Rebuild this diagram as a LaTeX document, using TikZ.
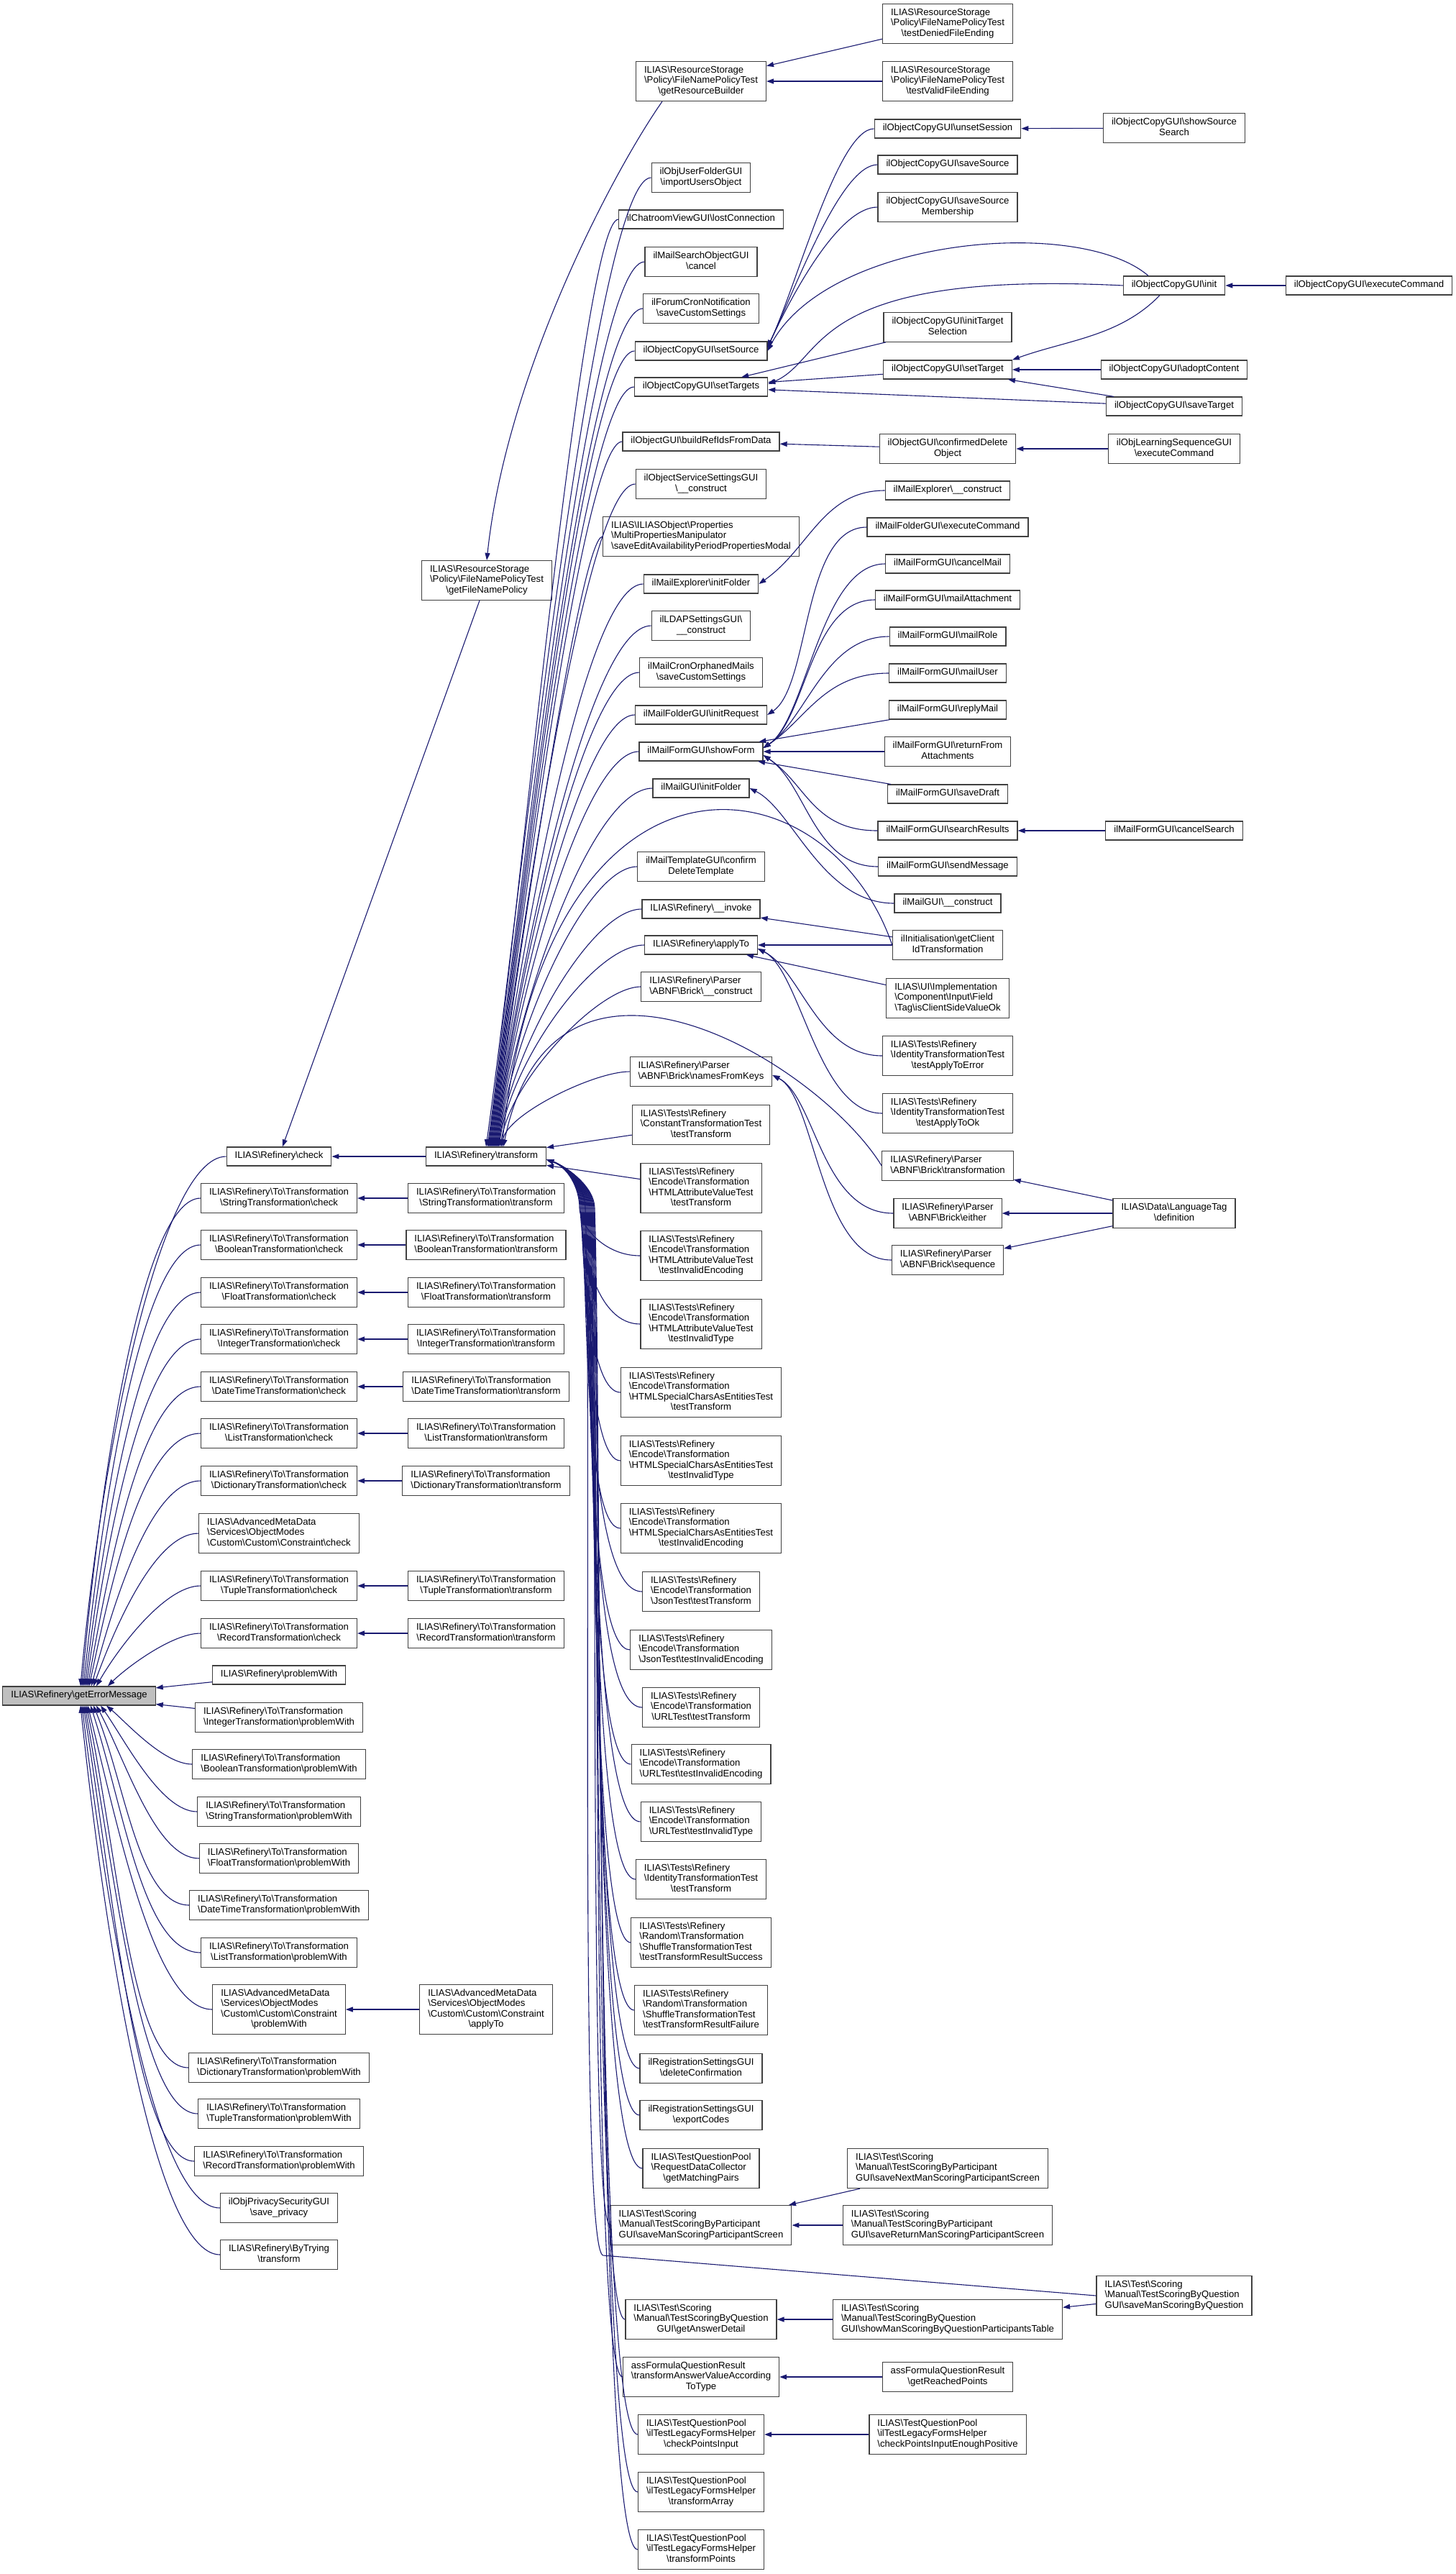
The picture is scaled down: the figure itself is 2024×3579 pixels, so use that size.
\documentclass[tikz,border=0pt]{standalone}
\usepackage{fontspec}
\setmainfont{Liberation Sans}
\usepackage{xcolor}
\usepackage{tikz}
\usetikzlibrary{arrows.meta}
\definecolor{edgeblue}{HTML}{191970}
\definecolor{boxline}{HTML}{404040}
\definecolor{hubfill}{HTML}{BFBFBF}
\newcommand{\bsl}{\textbackslash}
\newcommand{\fnt}{\fontsize{13.15}{14.5}\selectfont}
\newcommand{\one}[1]{\begin{tabular}{@{}c@{}}#1\end{tabular}}
\newcommand{\many}[2]{\begin{tabular}{@{}l@{}}#1\\\multicolumn{1}{@{}c@{}}{#2}\end{tabular}}

\begin{document}
\begin{tikzpicture}[x=1pt,y=1pt,node distance=288pt,
	>={Triangle[length=10pt,width=7pt]},
	fn/.style={draw=boxline,fill=white,line width=1.2pt,inner xsep=11.5pt,inner ysep=5.75pt,font=\fnt},
	call/.style={<-,draw=edgeblue,line width=1.1pt}]
	\useasboundingbox (0,0) rectangle (2024,-3579);

	\node[fn,fill=hubfill] (gem) at (110,-2358) {\one{ILIAS\bsl Refinery\bsl getErrorMessage}};

	\node[fn] (chk) at (388,-1608) {\one{ILIAS\bsl Refinery\bsl check}};
	\node (trf) [fn,right of=chk] {\one{ILIAS\bsl Refinery\bsl transform}};
	\foreach \kind/\y in {String/1666,Boolean/1731,Float/1797,Integer/1862,DateTime/1928,List/1993,Dictionary/2059,Tuple/2205,Record/2271} {
		\node[fn] (chk\kind) at (388,-\y) {\many{ILIAS\bsl Refinery\bsl To\bsl Transformation}{\bsl \kind Transformation\bsl check}};
		\node (trf\kind) [fn,right of=chk\kind] {\many{ILIAS\bsl Refinery\bsl To\bsl Transformation}{\bsl \kind Transformation\bsl transform}};
		\draw[call] (chk\kind) -- (trf\kind);
	}
	\node[fn] (chkAmd) at (388,-2132) {\many{ILIAS\bsl AdvancedMetaData\\\bsl Services\bsl ObjectModes}{\bsl Custom\bsl Custom\bsl Constraint\bsl check}};
	\node[fn] (pw) at (388,-2329) {\one{ILIAS\bsl Refinery\bsl problemWith}};
	\foreach \kind/\y in {Integer/2388,Boolean/2453,String/2519,Float/2584,DateTime/2649,List/2715,Dictionary/2875,Tuple/2939,Record/3005}
		\node[fn] (pw\kind) at (388,-\y) {\many{ILIAS\bsl Refinery\bsl To\bsl Transformation}{\bsl \kind Transformation\bsl problemWith}};
	\node[fn] (pwAmd) at (388,-2794) {\many{ILIAS\bsl AdvancedMetaData\\\bsl Services\bsl ObjectModes\\\bsl Custom\bsl Custom\bsl Constraint}{\bsl problemWith}};
	\node (amdApply) [fn,right of=pwAmd] {\many{ILIAS\bsl AdvancedMetaData\\\bsl Services\bsl ObjectModes\\\bsl Custom\bsl Custom\bsl Constraint}{\bsl applyTo}};
	\node[fn] (privacy) at (388,-3070) {\many{ilObjPrivacySecurityGUI}{\bsl save\_privacy}};
	\node[fn] (byTrying) at (388,-3135) {\many{ILIAS\bsl Refinery\bsl ByTrying}{\bsl transform}};
	\node[fn] (fnp) at (677,-807) {\many{ILIAS\bsl ResourceStorage\\\bsl Policy\bsl FileNamePolicyTest}{\bsl getFileNamePolicy}};

	\node[fn] (rsb) at (975,-113) {\many{ILIAS\bsl ResourceStorage\\\bsl Policy\bsl FileNamePolicyTest}{\bsl getResourceBuilder}};
	\node[fn] (importUsers) at (975,-247) {\many{ilObjUserFolderGUI}{\bsl importUsersObject}};
	\node[fn] (lostConn) at (975,-305) {\one{ilChatroomViewGUI\bsl lostConnection}};
	\node[fn] (searchCancel) at (975,-364) {\many{ilMailSearchObjectGUI}{\bsl cancel}};
	\node[fn] (forumSave) at (975,-429) {\many{ilForumCronNotification}{\bsl saveCustomSettings}};
	\node[fn] (setSource) at (975,-488) {\one{ilObjectCopyGUI\bsl setSource}};
	\node[fn] (setTargets) at (975,-538) {\one{ilObjectCopyGUI\bsl setTargets}};
	\node[fn] (buildRef) at (975,-614) {\one{ilObjectGUI\bsl buildRefIdsFromData}};
	\node[fn] (servConstr) at (975,-673) {\many{ilObjectServiceSettingsGUI}{\bsl\_\_construct}};
	\node[fn] (saveAvail) at (975,-746) {\many{ILIAS\bsl ILIASObject\bsl Properties\\\bsl MultiPropertiesManipulator}{\bsl saveEditAvailabilityPeriodPropertiesModal}};
	\node[fn] (explInit) at (975,-812) {\one{ilMailExplorer\bsl initFolder}};
	\node[fn] (ldapConstr) at (975,-870) {\many{ilLDAPSettingsGUI\bsl}{\_\_construct}};
	\node[fn] (orphSave) at (975,-935) {\many{ilMailCronOrphanedMails}{\bsl saveCustomSettings}};
	\node[fn] (initReq) at (975,-994) {\one{ilMailFolderGUI\bsl initRequest}};
	\node[fn] (showForm) at (975,-1045) {\one{ilMailFormGUI\bsl showForm}};
	\node[fn] (guiInit) at (975,-1096) {\one{ilMailGUI\bsl initFolder}};
	\node[fn] (confTpl) at (975,-1205) {\many{ilMailTemplateGUI\bsl confirm}{DeleteTemplate}};
	\node[fn] (invoke) at (975,-1264) {\one{ILIAS\bsl Refinery\bsl\_\_invoke}};
	\node[fn] (applyTo) at (975,-1314) {\one{ILIAS\bsl Refinery\bsl applyTo}};
	\node[fn] (brickConstr) at (975,-1372) {\many{ILIAS\bsl Refinery\bsl Parser}{\bsl ABNF\bsl Brick\bsl\_\_construct}};
	\node[fn] (namesKeys) at (975,-1490) {\many{ILIAS\bsl Refinery\bsl Parser}{\bsl ABNF\bsl Brick\bsl namesFromKeys}};
	\node[fn] (constTest) at (975,-1564) {\many{ILIAS\bsl Tests\bsl Refinery\\\bsl ConstantTransformationTest}{\bsl testTransform}};
	\foreach \n/\y/\last in {haTrf/1652/testTransform,haEnc/1746/testInvalidEncoding,haType/1841/testInvalidType}
		\node[fn] (\n) at (975,-\y) {\many{ILIAS\bsl Tests\bsl Refinery\\\bsl Encode\bsl Transformation\\\bsl HTMLAttributeValueTest}{\bsl\last}};
	\foreach \n/\y/\last in {hsTrf/1936/testTransform,hsType/2031/testInvalidType,hsEnc/2125/testInvalidEncoding}
		\node[fn] (\n) at (975,-\y) {\many{ILIAS\bsl Tests\bsl Refinery\\\bsl Encode\bsl Transformation\\\bsl HTMLSpecialCharsAsEntitiesTest}{\bsl\last}};
	\foreach \n/\y/\last in {jsTrf/2213/JsonTest\bsl testTransform,jsEnc/2294/JsonTest\bsl testInvalidEncoding,urlTrf/2374/URLTest\bsl testTransform,urlEnc/2453/URLTest\bsl testInvalidEncoding,urlType/2533/URLTest\bsl testInvalidType}
		\node[fn] (\n) at (975,-\y) {\many{ILIAS\bsl Tests\bsl Refinery\\\bsl Encode\bsl Transformation}{\bsl\last}};
	\node[fn] (idTrf) at (975,-2613) {\many{ILIAS\bsl Tests\bsl Refinery\\\bsl IdentityTransformationTest}{\bsl testTransform}};
	\node[fn] (shufOk) at (975,-2701) {\many{ILIAS\bsl Tests\bsl Refinery\\\bsl Random\bsl Transformation\\\bsl ShuffleTransformationTest}{\bsl testTransformResultSuccess}};
	\node[fn] (shufFail) at (975,-2795) {\many{ILIAS\bsl Tests\bsl Refinery\\\bsl Random\bsl Transformation\\\bsl ShuffleTransformationTest}{\bsl testTransformResultFailure}};
	\node[fn] (regDel) at (975,-2876) {\many{ilRegistrationSettingsGUI}{\bsl deleteConfirmation}};
	\node[fn] (regExp) at (975,-2941) {\many{ilRegistrationSettingsGUI}{\bsl exportCodes}};
	\node[fn] (matchPairs) at (975,-3015) {\many{ILIAS\bsl TestQuestionPool\\\bsl RequestDataCollector}{\bsl getMatchingPairs}};
	\node[fn] (saveManPart) at (975,-3094) {\many{ILIAS\bsl Test\bsl Scoring\\\bsl Manual\bsl TestScoringByParticipant}{GUI\bsl saveManScoringParticipantScreen}};
	\node[fn] (answerDetail) at (975,-3225) {\many{ILIAS\bsl Test\bsl Scoring\\\bsl Manual\bsl TestScoringByQuestion}{GUI\bsl getAnswerDetail}};
	\node[fn] (formulaType) at (975,-3305) {\many{assFormulaQuestionResult\\\bsl transformAnswerValueAccording}{ToType}};
	\foreach \n/\y/\last in {ptsInput/3385/checkPointsInput,ptsArray/3465/transformArray,ptsPoints/3545/transformPoints}
		\node[fn] (\n) at (975,-\y) {\many{ILIAS\bsl TestQuestionPool\\\bsl ilTestLegacyFormsHelper}{\bsl\last}};

	\node[fn] (denied) at (1318,-33) {\many{ILIAS\bsl ResourceStorage\\\bsl Policy\bsl FileNamePolicyTest}{\bsl testDeniedFileEnding}};
	\node[fn] (valid) at (1318,-113) {\many{ILIAS\bsl ResourceStorage\\\bsl Policy\bsl FileNamePolicyTest}{\bsl testValidFileEnding}};
	\node[fn] (unsetSess) at (1318,-179) {\one{ilObjectCopyGUI\bsl unsetSession}};
	\node[fn] (saveSrc) at (1318,-229) {\one{ilObjectCopyGUI\bsl saveSource}};
	\node[fn] (saveSrcMem) at (1318,-288) {\many{ilObjectCopyGUI\bsl saveSource}{Membership}};
	\node[fn] (initTgtSel) at (1318,-455) {\many{ilObjectCopyGUI\bsl initTarget}{Selection}};
	\node[fn] (setTarget) at (1318,-514) {\one{ilObjectCopyGUI\bsl setTarget}};
	\node[fn] (confDel) at (1318,-624) {\many{ilObjectGUI\bsl confirmedDelete}{Object}};
	\node[fn] (explConstr) at (1318,-682) {\one{ilMailExplorer\bsl\_\_construct}};
	\node[fn] (folderExec) at (1318,-733) {\one{ilMailFolderGUI\bsl executeCommand}};
	\node[fn] (cancelMail) at (1318,-784) {\one{ilMailFormGUI\bsl cancelMail}};
	\node[fn] (mailAtt) at (1318,-834) {\one{ilMailFormGUI\bsl mailAttachment}};
	\node[fn] (mailRole) at (1318,-885) {\one{ilMailFormGUI\bsl mailRole}};
	\node[fn] (mailUser) at (1318,-936) {\one{ilMailFormGUI\bsl mailUser}};
	\node[fn] (replyMail) at (1318,-987) {\one{ilMailFormGUI\bsl replyMail}};
	\node[fn] (retAtt) at (1318,-1045) {\many{ilMailFormGUI\bsl returnFrom}{Attachments}};
	\node[fn] (saveDraft) at (1318,-1104) {\one{ilMailFormGUI\bsl saveDraft}};
	\node[fn] (searchRes) at (1318,-1155) {\one{ilMailFormGUI\bsl searchResults}};
	\node[fn] (sendMsg) at (1318,-1205) {\one{ilMailFormGUI\bsl sendMessage}};
	\node[fn] (guiConstr) at (1318,-1256) {\one{ilMailGUI\bsl\_\_construct}};
	\node[fn] (clientId) at (1318,-1314) {\many{ilInitialisation\bsl getClient}{IdTransformation}};
	\node[fn] (uiTag) at (1318,-1388) {\many{ILIAS\bsl UI\bsl Implementation\\\bsl Component\bsl Input\bsl Field}{\bsl Tag\bsl isClientSideValueOk}};
	\node[fn] (applyErr) at (1318,-1468) {\many{ILIAS\bsl Tests\bsl Refinery\\\bsl IdentityTransformationTest}{\bsl testApplyToError}};
	\node[fn] (applyOk) at (1318,-1548) {\many{ILIAS\bsl Tests\bsl Refinery\\\bsl IdentityTransformationTest}{\bsl testApplyToOk}};
	\node[fn] (brickTrf) at (1318,-1621) {\many{ILIAS\bsl Refinery\bsl Parser}{\bsl ABNF\bsl Brick\bsl transformation}};
	\node[fn] (brickEither) at (1318,-1687) {\many{ILIAS\bsl Refinery\bsl Parser}{\bsl ABNF\bsl Brick\bsl either}};
	\node[fn] (brickSeq) at (1318,-1752) {\many{ILIAS\bsl Refinery\bsl Parser}{\bsl ABNF\bsl Brick\bsl sequence}};
	\node[fn] (saveNext) at (1318,-3015) {\many{ILIAS\bsl Test\bsl Scoring\\\bsl Manual\bsl TestScoringByParticipant}{GUI\bsl saveNextManScoringParticipantScreen}};
	\node[fn] (saveReturn) at (1318,-3094) {\many{ILIAS\bsl Test\bsl Scoring\\\bsl Manual\bsl TestScoringByParticipant}{GUI\bsl saveReturnManScoringParticipantScreen}};
	\node[fn] (showManQ) at (1318,-3225) {\many{ILIAS\bsl Test\bsl Scoring\\\bsl Manual\bsl TestScoringByQuestion}{GUI\bsl showManScoringByQuestionParticipantsTable}};
	\node[fn] (reached) at (1318,-3305) {\many{assFormulaQuestionResult}{\bsl getReachedPoints}};
	\node[fn] (enoughPos) at (1318,-3385) {\many{ILIAS\bsl TestQuestionPool\\\bsl ilTestLegacyFormsHelper}{\bsl checkPointsInputEnoughPositive}};

	\node[fn] (showSrcSearch) at (1633,-178) {\many{ilObjectCopyGUI\bsl showSource}{Search}};
	\node[fn] (cpInit) at (1633,-397) {\one{ilObjectCopyGUI\bsl init}};
	\node[fn] (adopt) at (1633,-514) {\one{ilObjectCopyGUI\bsl adoptContent}};
	\node[fn] (saveTgt) at (1633,-565) {\one{ilObjectCopyGUI\bsl saveTarget}};
	\node[fn] (lsExec) at (1633,-624) {\many{ilObjLearningSequenceGUI}{\bsl executeCommand}};
	\node[fn] (cancelSearch) at (1633,-1155) {\one{ilMailFormGUI\bsl cancelSearch}};
	\node[fn] (langDef) at (1633,-1687) {\many{ILIAS\bsl Data\bsl LanguageTag}{\bsl definition}};
	\node[fn] (saveManQ) at (1633,-3192) {\many{ILIAS\bsl Test\bsl Scoring\\\bsl Manual\bsl TestScoringByQuestion}{GUI\bsl saveManScoringByQuestion}};
	\node[fn] (cpExec) at (1904,-397) {\one{ilObjectCopyGUI\bsl executeCommand}};
	\coordinate (fan) at (806,-1680);
	\coordinate (qbend) at (839,-3136);

	\foreach \c/\s/\a/\o/\i in {chk/2/85/330/90,chkString/4/85/300/80,chkBoolean/6/84/270/80,chkFloat/8/83/240/80,chkInteger/10/82/210/80,chkDateTime/12/80/180/80,chkList/14/78/150/80,chkDictionary/17/75/120/70,chkAmd/20/70/90/60,chkTuple/24/60/60/50,chkRecord/40/45/35/40}
		\draw[call] ([xshift=\s pt]gem.north) .. controls +(\a:\o pt) and +(-\i pt,0pt) .. (\c.west);
	\foreach \c/\s/\a/\o/\i in {pwBoolean/38/-40/35/40,pwString/30/-55/60/50,pwFloat/24/-62/90/60,pwDateTime/20/-68/120/70,pwList/16/-72/150/80,pwAmd/12/-76/180/80,pwDictionary/10/-78/220/80,pwTuple/8/-80/250/80,pwRecord/6/-81/280/80,privacy/4/-83/310/90,byTrying/2/-84/340/90}
		\draw[call] ([xshift=\s pt]gem.south) .. controls +(\a:\o pt) and +(-\i pt,0pt) .. (\c.west);
	\draw[call] (gem) -- (pw);
	\draw[call] (gem) -- (pwInteger);
	\draw[call] (pwAmd) -- (amdApply);
	\draw[call] (chk) -- (trf);
	\draw[call] (chk) -- (fnp);
	\draw[call] (fnp.north) .. controls +(84:260pt) and +(235:120pt) .. ([xshift=-54pt]rsb.south);
	\draw[call] (rsb) -- (denied);
	\draw[call] (rsb) -- (valid);

	\foreach \c/\s/\o/\i in {importUsers/0/300/80,lostConn/2/300/50,searchCancel/3/300/80,forumSave/4/300/80,setSource/5/300/70,setTargets/6/300/70,buildRef/7/300/55,servConstr/8/300/70,saveAvail/9/300/30,explInit/10/300/80,ldapConstr/11/280/85,orphSave/12/260/75,initReq/13/240/70,showForm/14/220/75,guiInit/15/200/85,confTpl/16/170/70,invoke/17/140/70,applyTo/18/120/70,brickConstr/20/90/60,namesKeys/22/45/50}
		\draw[call] ([xshift=\s pt]trf.north) .. controls +(82:\o pt) and +(-\i pt,0pt) .. (\c.west);
	\foreach \c/\d/\o/\i in {haEnc/0/25/50,haType/1/60/60,hsTrf/2/100/40,hsType/3/140/40,hsEnc/4/180/45,jsTrf/5/220/70,jsEnc/6/250/55,urlTrf/7/280/70,urlEnc/8/300/55,urlType/9/300/65,idTrf/10/300/60,shufOk/11/300/55,shufFail/12/300/60,regDel/13/300/65,regExp/14/300/65,matchPairs/15/300/70,saveManPart/16/300/30,answerDetail/17/300/45,formulaType/18/300/45,ptsInput/19/300/60,ptsArray/20/300/60,ptsPoints/21/300/60}
		\draw[call] ([yshift=-4pt]trf.east) .. controls +(-20:30pt) and +(0pt,30pt) .. ([xshift=\d pt]fan) .. controls +(-88:\o pt) and +(-\i pt,0pt) .. (\c.west);
	\draw[call] (trf) -- (constTest);
	\draw[call] (trf) -- (haTrf);
	\draw[call] ([xshift=22pt]trf.north) .. controls (760,-1000) and (1150,-1050) .. (clientId.west);
	\draw[call] ([xshift=24pt]trf.north) .. controls (770,-1250) and (1140,-1480) .. (brickTrf.west);
	\draw[call] ([yshift=-4pt]trf.east) .. controls +(-20:30pt) and +(0pt,30pt) .. ([xshift=8pt]fan) .. controls +(-88:300pt) and +(-35pt,2pt) .. (qbend) -- (saveManQ.west);

	\draw[call] (unsetSess) -- (showSrcSearch);
	\foreach \c in {unsetSess,saveSrc,saveSrcMem}
		\draw[call] ([yshift=5pt]setSource.east) .. controls +(65:100pt) and +(-50pt,0pt) .. (\c.west);
	\draw[call] (setSource.east) .. controls (1150,-330) and (1500,-300) .. ([xshift=-36pt]cpInit.north);
	\draw[call] ([yshift=4pt]setTargets.east) .. controls (1150,-500) and (1120,-375) .. (cpInit.west);
	\draw[call] (setTargets) -- (initTgtSel);
	\draw[call] (setTargets) -- (setTarget);
	\draw[call] (setTargets) -- (saveTgt);
	\draw[call] (setTarget.north east) .. controls +(20:80pt) and +(226:80pt) .. ([xshift=-20pt]cpInit.south);
	\draw[call] (setTarget) -- (adopt);
	\draw[call] (setTarget) -- (saveTgt);
	\draw[call] (cpInit) -- (cpExec);
	\draw[call] (buildRef) -- (confDel);
	\draw[call] (confDel) -- (lsExec);

	\draw[call] (explInit.east) .. controls +(35:86pt) and +(-86pt,0pt) .. (explConstr.west);
	\draw[call] (initReq.east) .. controls +(60,40) and +(-90,0) .. (folderExec.west);
	\foreach \c in {cancelMail,mailAtt,mailRole,mailUser}
		\draw[call] ([yshift=5pt]showForm.east) .. controls +(60,40) and +(-90,0) .. (\c.west);
	\draw[call] (showForm) -- (replyMail);
	\draw[call] (showForm) -- (retAtt);
	\draw[call] (showForm) -- (saveDraft);
	\foreach \c in {searchRes,sendMsg}
		\draw[call] ([yshift=-5pt]showForm.east) .. controls +(60,-40) and +(-90,0) .. (\c.west);
	\draw[call] (searchRes) -- (cancelSearch);
	\draw[call] (guiInit.east) .. controls +(60,-30) and +(-100,0) .. (guiConstr.west);
	\draw[call] (invoke) -- (clientId);
	\draw[call] (applyTo) -- (clientId);
	\draw[call] (applyTo) -- (uiTag);
	\foreach \c in {applyErr,applyOk}
		\draw[call] ([yshift=-5pt]applyTo.east) .. controls +(60,-30) and +(-90,0) .. (\c.west);
	\foreach \c in {brickEither,brickSeq}
		\draw[call] ([yshift=-5pt]namesKeys.east) .. controls +(60,-30) and +(-100,0) .. (\c.west);
	\foreach \c in {brickTrf,brickEither,brickSeq}
		\draw[call] (\c) -- (langDef);

	\draw[call] (saveManPart) -- (saveNext);
	\draw[call] (saveManPart) -- (saveReturn);
	\draw[call] (answerDetail) -- (showManQ);
	\draw[call] (showManQ) -- (saveManQ);
	\draw[call] (formulaType) -- (reached);
	\draw[call] (ptsInput) -- (enoughPos);
\end{tikzpicture}
\end{document}
